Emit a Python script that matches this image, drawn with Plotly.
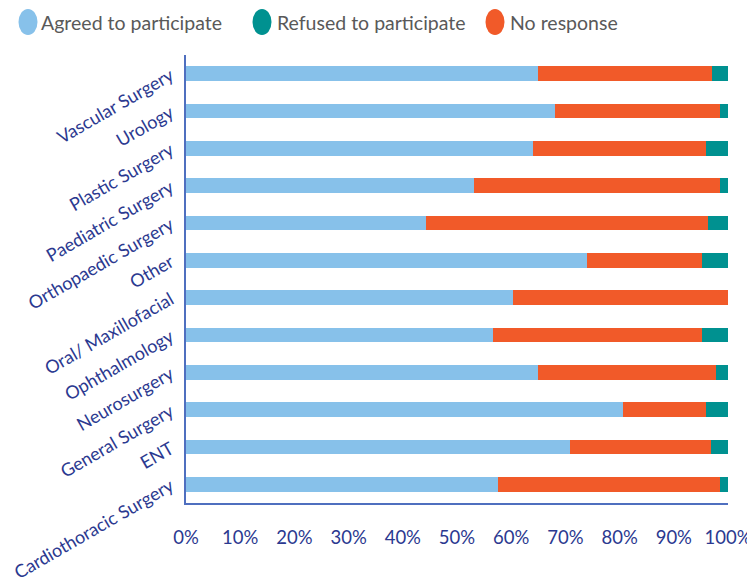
import plotly.graph_objects as go

categories = ["Cardiothoracic Surgery", "ENT", "General Surgery", "Neurosurgery",
              "Ophthalmology", "Oral/ Maxillofacial", "Other", "Orthopaedic Surgery",
              "Paediatric Surgery", "Plastic Surgery", "Urology", "Vascular Surgery"]
agreed = [57.5, 70.8, 80.6, 64.9, 56.7, 60.4, 74.0, 44.3, 53.2, 64.0, 68.0, 64.9]
no_response = [41.0, 26.1, 15.4, 32.9, 38.5, 39.6, 21.2, 52.1, 45.3, 31.9, 30.5, 32.2]
refused = [1.5, 3.1, 4.0, 2.2, 4.8, 0.0, 4.8, 3.6, 1.5, 4.1, 1.5, 2.9]

x_ticks = [0, 10, 20, 30, 40, 50, 60, 70, 80, 90, 100]
x_tick_labels = [f"{v}%" for v in x_ticks]

legend_names = ["Agreed to participate", "Refused to participate", "No response"]
legend_colors = ["#87C1EA", "#009190", "#F15A29"]

C_AGREED, C_REFUSED, C_NR = legend_colors
TICK_COLOR = "#2B3990"
FONT = "Lato"

fig = go.Figure()
fig.add_trace(go.Bar(y=categories, x=agreed, orientation="h", name=legend_names[0],
                     marker=dict(color=C_AGREED, line=dict(width=0)), showlegend=False))
fig.add_trace(go.Bar(y=categories, x=no_response, orientation="h", name=legend_names[2],
                     marker=dict(color=C_NR, line=dict(width=0)), showlegend=False))
fig.add_trace(go.Bar(y=categories, x=refused, orientation="h", name=legend_names[1],
                     marker=dict(color=C_REFUSED, line=dict(width=0)), showlegend=False))

W, H = 747, 578
ml, mt, mr, mb = 186, 55, 19, 75
pw, ph = W - ml - mr, H - mt - mb

def px_to_paper_x(px):
    return (px - ml) / pw

def px_to_paper_y(py):
    return 1 + (mt - py) / ph

legend_circle_px = [28, 262, 495]
legend_text_px = [39, 275, 508]
ly = px_to_paper_y(22)
shapes = []
annotations = []
for name, col, cx, tx in zip(legend_names, legend_colors, legend_circle_px, legend_text_px):
    shapes.append(dict(type="circle", xref="paper", yref="paper",
                       xsizemode="pixel", ysizemode="pixel",
                       xanchor=px_to_paper_x(cx), yanchor=ly,
                       x0=-9.5, x1=9.5, y0=-13, y1=13,
                       fillcolor=col, line=dict(width=0)))
    annotations.append(dict(text=name, xref="paper", yref="paper",
                            x=px_to_paper_x(tx), y=ly, xanchor="left", yanchor="middle",
                            showarrow=False, font=dict(family=FONT, size=19.5, color="#595959")))

fig.update_layout(
    barmode="stack",
    bargap=0.606,
    width=W, height=H,
    margin=dict(l=ml, r=mr, t=mt, b=mb, autoexpand=False),
    paper_bgcolor="white", plot_bgcolor="white",
    showlegend=False,
    shapes=shapes,
    annotations=annotations,
    font=dict(family=FONT, size=19, color=TICK_COLOR),
)
fig.update_xaxes(range=[0, 100], tickvals=x_ticks, ticktext=x_tick_labels,
                 showgrid=False, zeroline=False, showline=True,
                 linecolor="#4F6FBF", linewidth=1.5, automargin=False,
                 ticks="", ticklabelstandoff=17, ticklabeloverflow="allow",
                 tickfont=dict(family=FONT, size=18.5, color=TICK_COLOR))
fig.update_yaxes(categoryorder="array", categoryarray=categories,
                 showgrid=False, zeroline=False, showline=True,
                 linecolor="#4F6FBF", linewidth=1.5, automargin=False,
                 ticks="", tickangle=-30, ticklabelstandoff=10,
                 ticklabeloverflow="allow",
                 tickfont=dict(family=FONT, size=18, color=TICK_COLOR))

fig.write_html("out.html",
               config={"displayModeBar": False},
               post_script="document.body.style.margin='0';document.body.style.overflow='hidden';")
